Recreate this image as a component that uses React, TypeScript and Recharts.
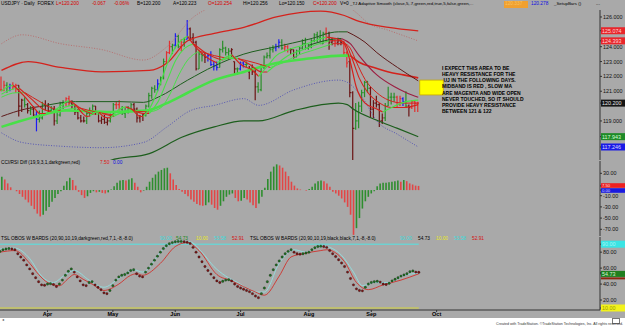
import React from "react";
import { ComposedChart, Bar, Line, XAxis, YAxis, ReferenceLine, ReferenceArea, Cell } from "recharts";

// weekdays from 10 Mar 2015; bars stop at 23 Sep, the rest is empty space
const DAYS = 203;
const monthStarts = [16, 38, 59, 81, 104, 125, 147];
const monthNames = ["Apr", "May", "Jun", "Jul", "Aug", "Sep", "Oct"];

// open, high, low, close
const ohlc: number[][] = [
  [121.1, 122.0, 121.0, 121.1], [121.1, 121.7, 121.0, 121.4], [121.4, 121.6, 120.9, 121.3], [121.3, 121.5, 121.0, 121.4], [121.4, 121.6, 121.1, 121.3],
  [121.3, 121.5, 120.9, 121.4], [121.4, 121.4, 119.3, 120.0], [120.0, 120.5, 119.6, 120.4], [120.4, 120.6, 119.9, 120.1], [120.1, 120.2, 119.5, 119.7],
  [119.7, 120.0, 119.4, 119.8], [119.8, 120.0, 119.3, 119.4], [119.4, 119.7, 118.3, 119.1], [119.1, 119.7, 118.9, 119.2], [119.2, 120.3, 119.1, 120.1],
  [120.1, 120.4, 119.7, 120.0], [120.0, 120.2, 119.5, 119.7], [119.7, 120.0, 119.5, 119.8], [119.8, 120.0, 118.7, 119.0], [119.0, 119.6, 118.8, 119.4],
  [119.4, 120.3, 119.3, 120.2], [120.2, 120.4, 119.8, 120.2], [120.2, 120.6, 120.0, 120.5], [120.5, 120.7, 120.0, 120.2], [120.2, 120.4, 119.8, 120.1],
  [120.1, 120.1, 119.4, 119.6], [119.6, 119.8, 119.1, 119.2], [119.2, 119.4, 118.9, 119.0], [119.0, 119.3, 118.9, 119.0], [119.0, 119.6, 118.8, 119.5],
  [119.5, 119.9, 119.3, 119.7], [119.7, 120.1, 119.4, 120.0], [120.0, 120.0, 119.4, 119.6], [119.6, 119.6, 118.9, 119.0], [119.0, 119.3, 118.8, 119.1],
  [119.1, 119.4, 118.8, 118.9], [118.9, 119.2, 118.7, 119.0], [119.0, 119.5, 118.9, 119.4], [119.4, 120.2, 119.3, 120.1], [120.1, 120.3, 119.8, 120.1],
  [120.1, 120.4, 119.7, 119.8], [119.8, 120.0, 119.4, 119.5], [119.5, 119.9, 119.2, 119.7], [119.7, 120.0, 119.5, 119.8], [119.8, 120.2, 119.7, 120.1],
  [120.1, 120.2, 119.6, 119.8], [119.8, 119.9, 118.9, 119.2], [119.2, 119.4, 118.9, 119.3], [119.3, 119.5, 119.0, 119.4], [119.4, 120.1, 119.3, 120.0],
  [120.0, 120.9, 119.9, 120.7], [120.7, 121.3, 120.5, 121.2], [121.2, 121.4, 120.9, 121.1], [121.1, 121.8, 121.0, 121.5], [121.5, 122.0, 121.4, 121.9],
  [121.9, 123.2, 121.8, 123.0], [123.0, 123.7, 122.9, 123.6], [123.6, 124.4, 123.5, 124.0], [124.0, 124.2, 123.5, 124.1], [124.1, 124.9, 123.9, 124.7],
  [124.7, 124.8, 123.9, 124.0], [124.0, 124.5, 123.7, 124.3], [124.3, 124.6, 124.0, 124.5], [124.5, 125.8, 124.5, 125.2], [125.2, 125.3, 124.4, 124.6],
  [124.6, 124.9, 124.2, 124.3], [124.3, 124.4, 122.4, 122.5], [122.5, 123.8, 122.5, 123.5], [123.5, 123.6, 123.0, 123.4], [123.4, 123.6, 122.9, 123.3],
  [123.3, 123.5, 123.0, 123.4], [123.4, 123.7, 122.7, 122.8], [122.8, 123.0, 122.4, 122.7], [122.7, 123.0, 122.4, 122.6], [122.6, 123.9, 122.6, 123.8],
  [123.8, 124.4, 123.6, 123.9], [123.9, 124.0, 123.4, 123.6], [123.6, 123.9, 123.2, 123.7], [123.7, 123.9, 123.3, 123.8], [123.0, 123.0, 122.1, 122.5],
  [122.5, 122.6, 122.1, 122.5], [122.5, 123.0, 122.4, 122.9], [122.9, 123.0, 122.6, 122.8], [122.8, 123.0, 122.6, 122.8], [122.3, 122.7, 121.8, 122.5],
  [122.5, 122.8, 122.1, 122.3], [122.3, 122.5, 120.4, 121.3], [121.3, 121.6, 120.9, 121.1], [121.1, 122.8, 121.0, 122.6], [122.6, 123.4, 122.5, 123.3],
  [123.3, 123.6, 123.2, 123.4], [123.4, 124.0, 123.2, 123.8], [123.8, 124.1, 123.6, 123.9], [123.9, 124.2, 123.7, 124.0], [124.0, 124.5, 123.9, 124.3],
  [124.3, 124.5, 123.8, 123.9], [123.9, 124.2, 123.7, 124.0], [124.0, 124.1, 123.6, 123.8], [123.8, 123.9, 123.5, 123.8], [123.8, 123.8, 123.2, 123.3],
  [123.3, 123.8, 123.3, 123.7], [123.7, 124.0, 123.5, 123.9], [123.9, 124.5, 123.8, 124.2], [124.2, 124.6, 123.8, 123.9], [123.9, 124.2, 123.8, 124.0],
  [124.0, 124.5, 123.9, 124.4], [124.4, 124.9, 124.3, 124.8], [124.8, 125.0, 124.3, 124.6], [124.6, 125.1, 124.3, 124.2], [124.2, 125.0, 124.2, 124.9],
  [124.9, 125.3, 124.3, 124.9], [124.9, 125.0, 123.8, 124.3], [124.3, 124.6, 124.1, 124.4], [124.4, 124.5, 124.0, 124.3], [124.3, 124.6, 124.1, 124.4],
  [124.4, 124.5, 124.1, 124.3], [124.3, 124.4, 123.4, 123.6], [123.6, 123.7, 122.6, 122.9], [123.0, 123.2, 120.6, 120.9], [120.9, 121.0, 116.2, 118.5],
  [118.5, 120.2, 118.4, 119.0], [119.0, 120.3, 118.5, 120.0], [120.0, 121.1, 119.6, 120.9], [120.9, 121.7, 120.6, 121.6], [121.6, 121.7, 120.9, 121.2],
  [121.2, 121.3, 119.2, 119.8], [119.8, 120.4, 119.2, 120.2], [120.2, 120.7, 119.9, 120.1], [120.1, 120.2, 118.6, 119.0], [119.0, 119.5, 118.8, 119.2],
  [119.2, 120.2, 119.0, 120.0], [120.0, 121.3, 120.0, 120.6], [120.6, 120.9, 120.1, 120.6], [120.6, 120.9, 120.3, 120.6], [120.6, 120.7, 119.9, 120.1],
  [120.1, 120.7, 120.0, 120.5], [120.5, 120.6, 120.0, 120.3], [120.3, 121.0, 119.9, 120.0], [120.0, 120.1, 119.3, 119.9], [119.9, 120.4, 119.8, 120.3],
  [120.3, 120.4, 119.6, 120.2], [120.2, 120.3, 119.6, 120.2],
];
// g green, r red, d dark red, b blue
const barTone =
  "rrgbrrddgd" + "gdbggddgdg" + "ggrrdddddg" + "ggdddddggr" + "rggggddddg" + "gggbggrrgb" + "grgbdddggd" +
  "bbbbggggdd" + "gbbgdddggg" + "gggbbgrrdd" + "gggggggggg" + "rddrddrrdd" + "gggggddddd" + "ggggrrbgdr" + "rr";

const cciDiff = [
  24, 19, 12, 5, 0, -2, -7, -12, -17, -22,
  -28, -34, -42, -47, -44, -37, -30, -21, -14, -7,
  -2, 8, 16, 22, 18, 8, -3, -9, -14, -11,
  -5, -2, -4, -3, -5, -6, -4, 1, 7, 13,
  17, 18, 17, 19, 21, 13, 6, -4, -1, 6,
  15, 22, 28, 33, 36, 39, 40, 30, 19, 9,
  2, -3, -7, -11, -17, -21, -25, -27, -28, -27,
  -22, -26, -32, -35, -28, -20, -12, -8, -6, -14,
  -20, -19, -14, -17, -22, -27, -32, -24, -12, 4,
  20, 33, 42, 46, 44, 40, 33, 25, 15, 8,
  3, 1, 0, -1, 2, 6, 12, 16, 17, 16,
  12, 6, -3, -6, -10, -15, -22, -30, -44, -80,
  -68, -50, -33, -20, -12, -6, -2, 7, 12, 13,
  13, 14, 15, 16, 17, 15, 18, 16, 12, 10,
  8, 7.5,
];

const tslOsc = [
  81, 83, 84, 84.5, 84, 83, 78, 74, 70, 64,
  59, 53, 48, 43, 39, 38.5, 40, 40.5, 39.5, 37,
  40, 45, 51, 56, 59, 55, 49, 44, 39, 38,
  42, 43, 39, 36, 33, 29, 28, 32, 38, 45,
  49, 51, 52, 54, 57, 58, 53, 50, 49, 55,
  60, 65, 70, 75, 80, 84.5, 88, 90.5, 92, 93,
  93.5, 93.5, 93, 92.5, 91, 86, 80, 74, 68, 62,
  57, 52.5, 48, 44, 42, 43.5, 45, 45.5, 44, 40,
  37, 35, 33.5, 32, 30.5, 28, 25, 23, 28, 35,
  43, 51, 58, 64, 69, 74, 78, 81, 83, 80,
  78, 77.5, 78, 79, 80, 83, 85.5, 87, 87.5, 87,
  86, 82, 78, 74.5, 70.5, 66.5, 62, 55, 47, 39,
  34, 32, 31.5, 36, 40, 42, 43, 43.5, 42.5, 40,
  39.5, 41, 44, 46, 48, 50, 51.5, 53, 55.5, 56.5,
  55, 54.73,
];

// lines given as [colour, [[day, value], ...]] pieces
type Seg = [string, number[][]];

const upperBand: Seg[] = [["red", [[0, 122.4], [9, 123.0], [20, 122.6], [34, 122.3], [50, 122.4], [56, 122.9], [63, 124.4], [72, 124.9], [82, 125.3], [93, 126.0], [108, 126.4], [116, 126.1], [121, 125.7], [131, 125.3], [141, 125.07]]]];
const upperDots: Seg[] = [["rose", [[0, 124.2], [7, 124.8], [20, 124.2], [34, 123.8], [48, 123.1], [56, 124.0], [65, 126.0], [70, 126.6], [80, 127.5], [100, 127.8], [115, 127.0], [120, 126.3], [124, 125.6], [131, 125.1], [141, 124.39]]]];
const lowerDots: Seg[] = [["navy", [[0, 118.2], [7, 117.55], [20, 117.3], [34, 117.2], [48, 117.55], [56, 118.6], [64, 119.7], [72, 120.05], [82, 120.5], [87, 120.05], [99, 121.1], [114, 121.75], [117, 121.6], [122, 120.6], [127, 119.0], [134, 118.1], [141, 117.25]]]];
const lowerBand: Seg[] = [["dkgreen", [[0, 115.4], [20, 115.5], [34, 115.9], [37, 116.35], [50, 116.8], [61, 117.9], [72, 118.6], [82, 119.0], [87, 119.0], [99, 119.7], [114, 120.2], [117, 120.1], [119, 119.8], [127, 119.05], [134, 118.5], [141, 117.94]]]];
const midband: Seg[] = [
  ["lime", [[0, 118.6], [11, 119.25], [22, 119.7], [37, 119.6], [49, 119.7], [56, 120.2], [63, 120.9], [72, 121.75], [82, 122.3], [93, 122.9], [104, 123.2], [115, 123.4], [118, 123.4]]],
  ["red", [[118, 123.4], [121, 122.95], [126, 122.6], [131, 122.3], [136, 122.1], [141, 121.9]]],
];
const slowA: Seg[] = [
  ["maroon", [[0, 119.3], [8, 119.8], [14, 120.0]]],
  ["dkgreen", [[14, 120.0], [25, 120.3], [40, 120.3], [48, 120.25], [53, 120.6], [63, 121.75], [72, 122.7], [82, 123.5], [93, 124.0], [104, 124.5], [114, 125.0], [117, 125.0]]],
  ["maroon", [[117, 125.0], [119, 124.8], [123, 124.3], [127, 123.6], [134, 122.6], [141, 121.7]]],
];
const slowB: Seg[] = [
  ["dkgreen", [[104, 124.1], [112, 124.5], [115, 124.55]]],
  ["magenta", [[115, 124.55], [118, 124.2], [121, 123.4], [127, 122.1], [133, 121.3], [137, 120.9], [141, 120.6]]],
];
const fastA: Seg[] = [
  ["lime", [[0, 121.0], [2, 121.3], [4, 121.4]]],
  ["red", [[4, 121.4], [8, 120.6], [11, 119.9], [13, 119.5], [15, 119.5]]],
  ["lime", [[15, 119.5], [17, 119.6], [20, 120.0], [22, 120.3], [23, 120.35]]],
  ["red", [[23, 120.35], [25, 120.1], [27, 119.6], [29, 119.3], [30, 119.35]]],
  ["lime", [[30, 119.35], [32, 119.6], [33, 119.6]]],
  ["red", [[33, 119.6], [35, 119.25], [37, 119.2]]],
  ["lime", [[37, 119.2], [40, 119.8], [42, 119.95]]],
  ["red", [[42, 119.95], [44, 119.8], [47, 119.3], [48, 119.3]]],
  ["lime", [[48, 119.3], [50, 119.8], [53, 121.1], [56, 122.8], [59, 124.0], [62, 124.6], [63, 124.7]]],
  ["red", [[63, 124.7], [66, 123.9], [70, 123.2], [73, 122.9]]],
  ["lime", [[73, 122.9], [76, 123.3], [78, 123.45]]],
  ["red", [[78, 123.45], [81, 122.8], [85, 122.4], [87, 122.0]]],
  ["lime", [[87, 122.0], [90, 122.7], [93, 123.4], [97, 123.8], [102, 124.1], [106, 124.4], [110, 124.65]]],
  ["red", [[110, 124.65], [114, 124.5], [116, 124.2], [118, 123.0], [120, 121.3], [123, 120.2], [127, 119.8], [129, 119.6]]],
  ["lime", [[129, 119.6], [131, 119.8], [134, 120.1], [137, 120.3], [141, 120.4]]],
];
const fastB: Seg[] = [
  ["lime", [[0, 120.8], [3, 121.1], [6, 121.2]]],
  ["red", [[6, 121.2], [10, 120.5], [14, 119.8], [17, 119.6]]],
  ["lime", [[17, 119.6], [21, 119.9], [25, 120.1]]],
  ["red", [[25, 120.1], [29, 119.6], [32, 119.45]]],
  ["lime", [[32, 119.45], [34, 119.5]]],
  ["red", [[34, 119.5], [38, 119.3]]],
  ["lime", [[38, 119.3], [41, 119.6], [44, 119.8]]],
  ["red", [[44, 119.8], [48, 119.5], [50, 119.5]]],
  ["lime", [[50, 119.5], [53, 120.3], [56, 121.7], [59, 123.1], [62, 123.9], [65, 124.2]]],
  ["red", [[65, 124.2], [69, 123.6], [73, 123.2], [75, 123.1]]],
  ["lime", [[75, 123.1], [78, 123.3], [80, 123.2]]],
  ["red", [[80, 123.2], [84, 122.8], [88, 122.3], [90, 122.3]]],
  ["lime", [[90, 122.3], [93, 122.8], [97, 123.4], [102, 123.8], [106, 124.1], [111, 124.4]]],
  ["red", [[111, 124.4], [115, 124.4], [117, 124.0], [119, 123.0], [121, 121.9], [124, 120.9], [128, 120.2], [132, 119.9], [136, 119.9], [141, 120.1]]],
];
const fastC: Seg[] = [
  ["lime", [[0, 120.6], [5, 120.9], [8, 120.9]]],
  ["red", [[8, 120.9], [13, 120.3], [18, 119.8], [20, 119.7]]],
  ["lime", [[20, 119.7], [26, 119.9]]],
  ["red", [[26, 119.9], [32, 119.6], [38, 119.4]]],
  ["lime", [[38, 119.4], [43, 119.6], [46, 119.65]]],
  ["red", [[46, 119.65], [50, 119.6]]],
  ["lime", [[50, 119.6], [54, 119.9], [57, 120.8], [60, 122.1], [63, 123.1], [67, 123.7]]],
  ["red", [[67, 123.7], [72, 123.4], [77, 123.2]]],
  ["lime", [[77, 123.2], [80, 123.2]]],
  ["red", [[80, 123.2], [86, 122.9], [91, 122.6]]],
  ["lime", [[91, 122.6], [95, 122.9], [100, 123.4], [106, 123.8], [112, 124.2]]],
  ["red", [[112, 124.2], [116, 124.2], [118, 123.9], [120, 123.0], [123, 121.8], [127, 120.9], [131, 120.4], [136, 120.2], [141, 120.2]]],
];
const tslSignal: Seg[] = [["red", [[0, 80], [5, 82], [10, 66], [13, 52], [16, 42], [20, 38], [23, 47], [25, 52], [28, 46], [31, 40], [35, 32], [40, 40], [44, 51], [46, 53], [48, 51], [54, 66], [59, 87], [63, 92], [67, 82], [73, 52], [78, 44], [86, 30], [89, 26], [94, 50], [98, 74], [102, 78], [108, 82], [110, 83], [116, 68], [120, 42], [124, 33], [129, 39], [135, 45], [141, 52.91]]]];
const tslCyan: Seg[] = [["cyan", [[0, 84], [5, 85], [10, 72], [14, 50], [18, 42], [22, 52], [25, 57], [30, 45], [35, 36], [40, 47], [45, 58], [48, 55], [55, 84], [60, 94], [64, 93], [68, 80], [72, 62], [76, 50], [80, 42], [86, 30], [89, 30], [94, 66], [99, 83], [103, 80], [108, 88], [111, 86], [115, 76], [119, 55], [122, 38], [126, 42], [131, 42], [136, 51], [141, 53.58]]]];

const tones: Record<string, string> = {
  red: "#d4221c", rose: "#b77070", navy: "#5656b4", dkgreen: "#1d5e1d", lime: "#48e048",
  maroon: "#5e1a1a", magenta: "#9c1c40", cyan: "#8ee6e6",
};
const barColor: Record<string, string> = { g: "#2a8f2a", r: "#e23030", d: "#6a1414", b: "#1c1cf2" };

const rows: any[] = Array.from({ length: DAYS }, (_, i) => ({ i }));
ohlc.forEach(([o, h, l, c], i) => {
  Object.assign(rows[i], { o, h, l, c, hl: [l, h], tone: barColor[barTone[i]] });
});
cciDiff.forEach((v, i) => {
  rows[i].cci = v;
  rows[i].cciCol = i > 0 && v < cciDiff[i - 1] ? "#e24646" : "#2e8e2e";
});
tslOsc.forEach((v, i) => {
  rows[i].tsl = v;
  rows[i].tslCol = i > 0 && v < tslOsc[i - 1] ? "#7c1414" : "#1f6e1f";
});
const addSegs = (name: string, segs: Seg[]) =>
  segs.forEach(([, pts], k) => pts.forEach(([i, v]) => { rows[i][name + k] = v; }));

const priceSeries: [string, Seg[], number, string?][] = [
  ["upDot", upperDots, 1, "1 1.6"],
  ["loDot", lowerDots, 1, "1 1.6"],
  ["upBand", upperBand, 1.3],
  ["loBand", lowerBand, 1.2],
  ["mid", midband, 2.6],
  ["slowA", slowA, 1],
  ["slowB", slowB, 1.1],
];
const fastSeries: [string, Seg[], number, string?][] = [
  ["fastC", fastC, 1],
  ["fastB", fastB, 1.1],
  ["fastA", fastA, 1.2],
];
[...priceSeries, ...fastSeries].forEach(([n, s]) => addSegs(n, s));
addSegs("sig", tslSignal);
addSegs("cy", tslCyan);

const segLines = ([name, segs, width, dash]: [string, Seg[], number, string?]) =>
  segs.map(([tone], k) => (
    <Line key={name + k} dataKey={name + k} type="monotone" stroke={tones[tone]} strokeWidth={name === "mid" && tone === "red" ? 1.6 : width}
      strokeDasharray={dash} dot={false} activeDot={false} connectNulls isAnimationActive={false} />
  ));

const OhlcBar = (p: any) => {
  const { x, y, width, height, payload } = p;
  if (!payload || payload.h == null) return <g />;
  const cx = x + width / 2;
  const top = Math.min(y, y + height);
  const span = Math.abs(height);
  const k = span / (payload.h - payload.l || 1);
  const yo = top + (payload.h - payload.o) * k;
  const yc = top + (payload.h - payload.c) * k;
  return (
    <g stroke={payload.tone} strokeWidth={1.2}>
      <line x1={cx} x2={cx} y1={top} y2={top + span} />
      <line x1={cx - 1.2} x2={cx} y1={yo} y2={yo} />
      <line x1={cx} x2={cx + 1.2} y1={yc} y2={yc} />
    </g>
  );
};

const TslDot = (p: any) => {
  const { cx, cy, payload, index } = p;
  if (cy == null || payload.tsl == null) return <g key={index} />;
  return <circle key={index} cx={cx} cy={cy} r={1.2} fill={payload.tslCol} stroke="#1a1a1a" strokeWidth={0.3} />;
};

// box: [fill, text colour, height, vertical shift, show text]
type AxisBox = [string, string, number, number, boolean];
const axisTick = (boxes: Record<string, AxisBox>, digits: number) => (p: any) => {
  const { x, y, payload } = p;
  const label = Number(payload.value).toFixed(digits);
  const box = boxes[label];
  if (box) {
    const [fill, ink, h, dy, show] = box;
    const fs = Math.min(5.4, h - 0.4);
    return (
      <g>
        <rect x={x - 2} y={y + dy - h / 2} width={24} height={h} fill={fill} />
        {show && <text x={x - 1} y={y + dy + fs * 0.36} fontSize={fs} fill={ink} fontFamily="Liberation Sans, Arial">{label}</text>}
      </g>
    );
  }
  return <text x={x} y={y + 2} fontSize={5.4} fill="#111" fontFamily="Liberation Sans, Arial">{label}</text>;
};

const priceBoxes: Record<string, AxisBox> = {
  "125.074": ["#e8262b", "#ffd4d4", 7, 0, true], "124.393": ["#e8262b", "#ffd4d4", 7, 0, true], "120.200": ["#151515", "#e6e6e6", 7, 0, true],
  "117.943": ["#1f8a28", "#d6ffd6", 7, 0, true], "117.246": ["#1a1ae6", "#dcdcff", 7, 0, true],
};
const cciBoxes: Record<string, AxisBox> = { "7.50": ["#ee2020", "#ffe0e0", 4.6, -0.4, true], "0.00": ["#1a1ae0", "#dcdcff", 4.6, 0.4, true] };
const tslBoxes: Record<string, AxisBox> = {
  "90.00": ["#3ae4e4", "#a8f4f4", 7, 0, true], "52.91": ["#8a2810", "#f0c0a0", 2, 4.6, false],
  "54.73": ["#1f7f1f", "#d4f4d4", 6, 1.6, true], "10.00": ["#f2f21c", "#9a9a00", 7, 0, true],
};

const BG = "#a9a9a9";
const font = "'Liberation Sans', Arial, sans-serif";

const txt = (x: number, y: number, s: string, color = "#000", size = 4.8, extra: React.CSSProperties = {}) => (
  <div key={x + "-" + y + s} style={{ position: "absolute", left: x, top: y, fontSize: size, color, whiteSpace: "pre", fontFamily: font, lineHeight: 1, ...extra }}>{s}</div>
);

const noteLines = [
  "I EXPECT THIS AREA TO BE",
  "HEAVY RESISTANCE FOR THE",
  " UJ IN THE FOLLOWING DAYS.",
  "MIDBAND IS RED , SLOW MA",
  "ARE MAGENTA AND WIDE OPEN",
  "NEVER TOUCHED, SO IT SHOULD",
  "PROVIDE HEAVY RESISTANCE",
  "BETWEEN 121 & 122",
];

export default function App() {
  const yAxisBase = { orientation: "right" as const, width: 25, tickSize: 2, tickMargin: 1, interval: 0 as const, allowDataOverflow: true, axisLine: { stroke: "#333" }, tickLine: { stroke: "#333" } };
  return (
    <div style={{ position: "absolute", left: 0, top: 0, width: 625, height: 328, background: BG, overflow: "hidden", fontFamily: font }}>
      {/* header line */}
      {txt(1, 2, "USDJPY · Daily  FOREX")}
      {txt(56, 2, "L=120.200", "#d80000")}
      {txt(92, 2, "-0.067", "#d80000")}
      {txt(114, 2, "-0.06%", "#d80000")}
      {txt(137, 2, "B=120.200")}
      {txt(173, 2, "A=120.223")}
      {txt(208, 2, "O=120.254", "#d80000")}
      {txt(243, 2, "Hi=120.256")}
      {txt(279, 2, "Lo=120.150")}
      {txt(313, 2, "C=120.200", "#d80000")}
      {txt(340, 2, "V=0")}
      {txt(350, 2, "_TJ Adaptive Smooth (close,5,.7,green,red,true,5,false,green,...", "#000", 4.4)}
      <div style={{ position: "absolute", left: 504, top: 1, width: 24, height: 7, background: "#f0a030" }} />
      {txt(505, 2, "120.337", "#f8c060")}
      {txt(531, 2, "120.278", "#1010e0")}
      {txt(554, 2, "_SetupBars ()", "#000", 4.4)}
      {txt(596, 2, "...")}

      <div style={{ position: "absolute", left: 0, top: 10 }}>
        <ComposedChart width={625} height={150} data={rows} margin={{ top: 0, right: 0, bottom: 0, left: 0 }} barCategoryGap={0}>
          <XAxis dataKey="i" hide />
          <YAxis {...yAxisBase} domain={[116.37, 126.47]}
            ticks={[126, 124, 123, 122, 121, 119, 125.074, 124.393, 120.2, 117.943, 117.246]}
            tick={axisTick(priceBoxes, 3)} />
          {priceSeries.map(segLines)}
          <Bar dataKey="hl" barSize={2} shape={OhlcBar} isAnimationActive={false} />
          {fastSeries.map(segLines)}
          <ReferenceArea x1={142} x2={149} y1={120.75} y2={121.75} fill="#ffff00" fillOpacity={1} stroke="#c8a800" strokeWidth={0.8} />
        </ComposedChart>
      </div>
      {noteLines.map((s, k) => txt(442, 66 + k * 6.15, s, "#000", 5, { fontWeight: 700 }))}

      <div style={{ position: "absolute", left: 0, top: 161 }}>
        <ComposedChart width={625} height={75} data={rows} margin={{ top: 0, right: 0, bottom: 0, left: 0 }} barCategoryGap={0}>
          <XAxis dataKey="i" hide />
          <YAxis {...yAxisBase} domain={[-82, 52]} ticks={[30, -10, -30, -50, -70, 7.5, 0]} tick={axisTick(cciBoxes, 2)} />
          <Bar dataKey="cci" barSize={1.6} isAnimationActive={false}>
            {rows.map((r) => <Cell key={r.i} fill={r.cciCol || "none"} />)}
          </Bar>
        </ComposedChart>
      </div>
      {txt(1, 161, "CCI/RSI Diff (19,9,3,1,darkgreen,red)", "#000", 4.8)}
      {txt(100, 161, "7.50", "#e01010", 4.8)}
      {txt(113, 161, "0.00", "#1010e0", 4.8)}

      <div style={{ position: "absolute", left: 0, top: 237 }}>
        <ComposedChart width={625} height={81} data={rows} margin={{ top: 0, right: 0, bottom: 0, left: 0 }}>
          <XAxis dataKey="i" ticks={monthStarts} interval={0} height={8} tickSize={2} tickMargin={0}
            tickFormatter={(v) => monthNames[monthStarts.indexOf(v)]}
            tick={{ fontSize: 5.5, fontWeight: 700, fill: "#000", fontFamily: font }}
            axisLine={{ stroke: "#333" }} tickLine={{ stroke: "#333" }} />
          <YAxis {...yAxisBase} domain={[7.5, 99]} ticks={[80, 60, 40, 20, 90, 52.91, 54.73, 10]} tick={axisTick(tslBoxes, 2)} />
          <ReferenceLine segment={[{ x: 0, y: 90 }, { x: 141, y: 90 }]} stroke="#52e4e4" strokeWidth={1} />
          <ReferenceLine segment={[{ x: 0, y: 10 }, { x: 141, y: 10 }]} stroke="#d4d43a" strokeWidth={1} />
          {segLines(["cy", tslCyan, 0.8])}
          {segLines(["sig", tslSignal, 0.8])}
          <Line dataKey="tsl" stroke="none" dot={TslDot} activeDot={false} isAnimationActive={false} />
        </ComposedChart>
      </div>
      {txt(1, 237, "TSL OBOS W BARDS (20,90,10,19,darkgreen,red,7,1,-8,-8.0)", "#000", 4.8)}
      {txt(160, 237, "90.00", "#3adcdc", 4.8)}
      {txt(176, 237, "54.73", "#1f8a1f", 4.8)}
      {txt(196, 237, "10.00", "#e8e820", 4.8)}
      {txt(214, 237, "53.58", "#3adcdc", 4.8)}
      {txt(232, 237, "52.91", "#d81010", 4.8)}
      {txt(250, 237, "TSL OBOS W BARDS (20,90,10,19,black,black,7,1,-8,-8.0)", "#000", 4.8)}
      {txt(400, 237, "90.00", "#3adcdc", 4.8)}
      {txt(418, 237, "54.73", "#000", 4.8)}
      {txt(436, 237, "10.00", "#e8e820", 4.8)}
      {txt(454, 237, "53.58", "#3adcdc", 4.8)}
      {txt(472, 237, "52.91", "#d81010", 4.8)}

      <div style={{ position: "absolute", left: 0, top: 318, width: 625, height: 10, background: "#fff" }} />
      {txt(2, 318, "◂", "#555", 4)}
      <div style={{ position: "absolute", left: 612, top: 318, width: 6, height: 4, border: "0.5px solid #777" }} />
      <div style={{ position: "absolute", right: 2, top: 323, fontSize: 3.6, color: "#333", whiteSpace: "pre", fontFamily: font, lineHeight: 1 }}>
        Created with TradeStation. ©TradeStation Technologies, Inc. All rights reserved.
      </div>
    </div>
  );
}
